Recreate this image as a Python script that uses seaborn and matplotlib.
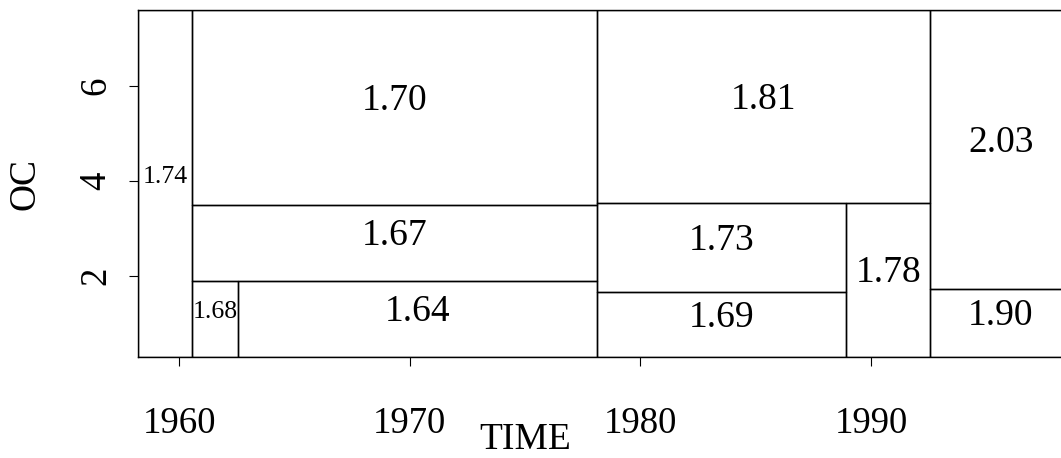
import numpy as np
import pandas as pd
import matplotlib
matplotlib.use("Agg")
import matplotlib.pyplot as plt
import seaborn as sns

# Leaf regions of the regression tree: TIME bounds, OC bounds and fitted mean
time_lo = [-np.inf, 1960.56, 1960.56, 1960.56, 1962.56, 1978.12, 1978.12, 1978.12, 1988.93, 1992.57, 1992.57]
time_hi = [1960.56, 1978.12, 1978.12, 1962.56, 1978.12, 1992.57, 1988.93, 1988.93, 1992.57, np.inf, np.inf]
oc_lo = [-np.inf, 3.49, 1.895, -np.inf, -np.inf, 3.53, 1.66, -np.inf, -np.inf, 1.72, -np.inf]
oc_hi = [np.inf, np.inf, 3.49, 1.895, 1.895, np.inf, 3.53, 1.66, 3.53, np.inf, 1.72]
leaf_value = [1.74, 1.70, 1.67, 1.68, 1.64, 1.81, 1.73, 1.69, 1.78, 2.03, 1.90]

x_ticks = [1960, 1970, 1980, 1990]
y_ticks = [2, 4, 6]

XLIM = (1958.22, 1998.67)
YLIM = (0.295, 7.6)

sns.set_style("ticks")
plt.rcParams["font.family"] = ["Liberation Serif", "DejaVu Serif"]
plt.rcParams["text.color"] = "black"
plt.rcParams["axes.labelcolor"] = "black"
plt.rcParams["xtick.color"] = "black"
plt.rcParams["ytick.color"] = "black"

fig = plt.figure(figsize=(10.61, 4.58), dpi=100)
ax = fig.add_axes([0.1301, 0.2205, 0.8794, 0.7576])

# Clip unbounded edges to the plotting window
def clip(v, lim):
    return float(np.clip(v, lim[0], lim[1]))

rows = []
for i in range(len(leaf_value)):
    x0, x1 = clip(time_lo[i], XLIM), clip(time_hi[i], XLIM)
    y0, y1 = clip(oc_lo[i], YLIM), clip(oc_hi[i], YLIM)
    for k, (px, py) in enumerate([(x0, y0), (x1, y0), (x1, y1), (x0, y1), (x0, y0)]):
        rows.append({"leaf": i, "order": k, "TIME": px, "OC": py})
outline = pd.DataFrame(rows)

sns.lineplot(data=outline, x="TIME", y="OC", units="leaf", estimator=None,
             sort=False, color="black", linewidth=1.0, ax=ax, legend=False)

# Fitted value written at the centre of each leaf
for i, v in enumerate(leaf_value):
    x0, x1 = clip(time_lo[i], XLIM), clip(time_hi[i], XLIM)
    y0, y1 = clip(oc_lo[i], YLIM), clip(oc_hi[i], YLIM)
    size = 18.5 if (x1 - x0) < 3 else 27
    ax.annotate(f"{v:.2f}", xy=((x0 + x1) / 2, (y0 + y1) / 2),
                xytext=(0, 5), textcoords="offset points",
                ha="center", va="center", fontsize=size, color="black")

ax.set_xlim(*XLIM)
ax.set_ylim(*YLIM)
ax.set_xticks(x_ticks)
ax.set_yticks(y_ticks)
ax.set_xticklabels([str(t) for t in x_ticks], fontsize=26.5)
ax.set_yticklabels([str(t) for t in y_ticks], fontsize=26.5, rotation=90, va="center")
ax.tick_params(axis="x", direction="out", length=6.5, width=0.8, pad=29,
               colors="black", labelcolor="black")
ax.tick_params(axis="y", direction="out", length=6.5, width=0.8, pad=11,
               colors="black", labelcolor="black")

for s in ax.spines.values():
    s.set_visible(True)
    s.set_color("black")
    s.set_linewidth(1.0)

ax.set_xlabel("TIME", fontsize=27, color="black")
ax.set_ylabel("OC", fontsize=27, color="black")
ax.xaxis.set_label_coords(0.4148, -0.239)
ax.xaxis.label.set_va("center")
ax.yaxis.set_label_coords(-0.121, 0.5)
ax.yaxis.label.set_va("center")

fig.savefig("out.png", dpi=100)
